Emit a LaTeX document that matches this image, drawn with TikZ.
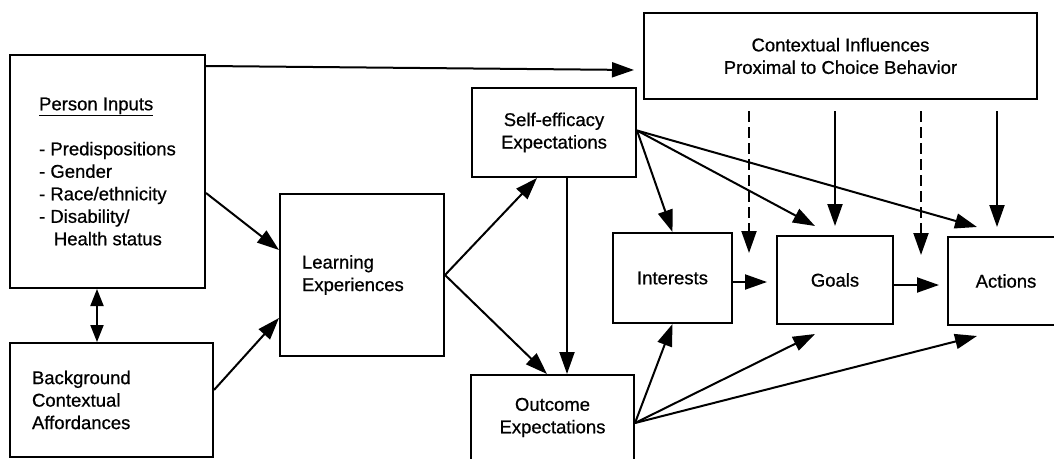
\documentclass[tikz,border=0pt]{standalone}
\usepackage{fontspec}
\setmainfont[FakeBold=0.7,AutoFakeBold=0.7]{Liberation Sans}
\usetikzlibrary{arrows.meta}
\begin{document}
\begin{tikzpicture}[x=1pt,y=-1pt,
  box/.style={draw, line width=2pt, inner sep=0pt, align=center,
    font=\fontsize{18.5}{22.5}\selectfont\bfseries},
  conn/.style={line width=2pt, -{Triangle[length=22pt,width=15pt]}},
  dconn/.style={conn, dash pattern=on 11pt off 5pt}]
\useasboundingbox (0,0) rectangle (1054,458);
% nodes
\node[box, minimum width=195pt, minimum height=233pt, align=left] (pi) at (107.5,171.5)
  {\underline{Person Inputs}\\[22.5pt]- Predispositions\\- Gender\\- Race/ethnicity\\- Disability/\\\hspace*{0.8em}Health status};
\node[box, text width=159pt, inner xsep=22pt, minimum height=114pt, align=left] (bg) at (111.5,400)
  {Background\\Contextual\\Affordances};
\node[box, text width=120pt, inner xsep=22pt, minimum height=162pt, align=left] (le) at (362,275)
  {Learning\\Experiences};
\node[box, minimum width=164pt, minimum height=89pt] (se) at (554,132.5)
  {Self-efficacy\\Expectations};
\node[box, minimum width=163pt, minimum height=85pt] (oe) at (552.5,417.5)
  {Outcome\\Expectations};
\node[box, minimum width=119pt, minimum height=90pt] (in) at (672.5,278) {Interests};
\node[box, minimum width=116pt, minimum height=88pt] (go) at (835,280) {Goals};
\node[box, minimum width=116pt, minimum height=88pt] (ac) at (1006,281) {Actions};
\node[box, minimum width=393pt, minimum height=86pt] (cx) at (840.5,56)
  {Contextual Influences\\Proximal to Choice Behavior};
% free ends of the dashed connectors
\coordinate (d1) at (749,253);
\coordinate (d2) at (921,255);
% connectors
\draw[conn] ([yshift=-21.5pt]pi.east) -- ([yshift=25pt]le.west);
\draw[conn] ([yshift=10pt]bg.east) -- ([yshift=-43pt]le.west);
\draw[line width=2pt, {Triangle[length=17pt,width=13pt]}-{Triangle[length=17pt,width=13pt]}]
  ([xshift=-10.5pt]pi.south) -- ([xshift=-10.5pt]pi.south |- bg.north);
\draw[conn] ([yshift=-12pt]pi.north east) -- ([xshift=-9pt,yshift=-14pt]cx.west);
\draw[conn] (le.east) -- ([xshift=-17pt]se.south);
\draw[conn] (le.east) -- ([xshift=-5.5pt]oe.north);
\draw[conn] ([xshift=13pt]se.south) -- ([xshift=13pt]se.south |- oe.north);
\draw[conn] ([yshift=2pt]se.east) -- (in.north);
\draw[conn] ([yshift=2pt]se.east) -- ([xshift=-20pt,yshift=9pt]go.north);
\draw[conn] ([yshift=2pt]se.east) -- ([xshift=-29pt,yshift=9pt]ac.north);
\draw[conn] ([yshift=-5.5pt]oe.east) -- (in.south);
\draw[conn] ([yshift=-5.5pt]oe.east) -- ([xshift=-20pt,yshift=-9pt]go.south);
\draw[conn] ([yshift=-5.5pt]oe.east) -- ([xshift=-29pt,yshift=-10pt]ac.south);
\draw[conn, shorten >=9pt] ([yshift=-4pt]in.east) -- ([yshift=-4pt]in.east -| go.west);
\draw[conn, shorten >=8pt] ([yshift=-5pt]go.east) -- ([yshift=-5pt]go.east -| ac.west);
\draw[dconn] ([yshift=-11pt]cx.south -| d1) -- (d1);
\draw[dconn] ([yshift=-11pt]cx.south -| d2) -- (d2);
\draw[conn] ([yshift=-11pt]cx.south -| go.north) -- ([yshift=9pt]go.north);
\draw[conn] ([xshift=-9pt,yshift=-11pt]cx.south -| ac.north) -- ([xshift=-9pt,yshift=9pt]ac.north);
\end{tikzpicture}
\end{document}
